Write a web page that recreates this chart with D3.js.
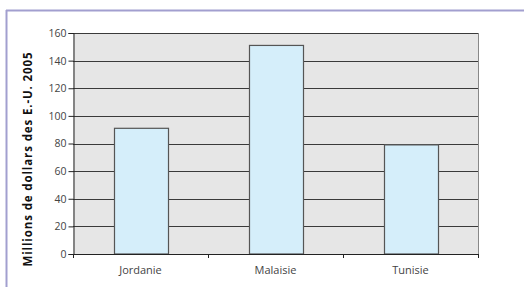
<!DOCTYPE html>
<html>
<head>
<meta charset="utf-8">
<script src="https://cdn.jsdelivr.net/npm/d3@7"></script>
<style>
  body { margin: 0; background: #fff; }
  svg { display: block; }
</style>
</head>
<body>
<div id="chart"></div>
<script>
const countries = ['Jordanie', 'Malaisie', 'Tunisie'];
const values = [91, 151, 79];
const yTicks = [0, 20, 40, 60, 80, 100, 120, 140, 160];
const yTitle = 'Millions de dollars des E.-U. 2005';

const w = 524, h = 291;
const m = {top: 33, right: 46, bottom: 37, left: 73};
const Mw = w - m.left - m.right,
      Mh = h - m.top - m.bottom;

const font = '"Open Sans", sans-serif';

const svg = d3.select('#chart')
    .append('svg')
        .attr('width', w)
        .attr('height', h);

// purple frame (top and left only)
svg.append('line')
    .attr('x1', 6).attr('x2', w).attr('y1', 10.5).attr('y2', 10.5)
    .attr('stroke', '#a29fcf').attr('stroke-width', 2);
svg.append('line')
    .attr('x1', 6.5).attr('x2', 6.5).attr('y1', 10).attr('y2', 287)
    .attr('stroke', '#a29fcf').attr('stroke-width', 2);

const g = svg.append('g')
    .attr('transform', `translate(${m.left}, ${m.top})`);

const x = d3.scaleBand()
    .domain(countries)
    .range([0, Mw])
    .paddingInner(0.6)
    .paddingOuter(0.3);

const y = d3.scaleLinear()
    .domain([0, 160])
    .range([Mh, 0]);

// plot background
g.append('rect')
    .attr('x', 0).attr('y', 0)
    .attr('width', Mw).attr('height', Mh)
    .attr('fill', '#e6e6e6');

// gridlines
g.selectAll('.grid')
    .data(yTicks.slice(1)).enter()
    .append('line')
    .attr('x1', 0).attr('x2', Mw)
    .attr('y1', d => Math.round(y(d)) + 0.5)
    .attr('y2', d => Math.round(y(d)) + 0.5)
    .attr('stroke', '#3a3a3a')
    .attr('stroke-width', 1);

// right border
g.append('line')
    .attr('x1', Mw + 0.5).attr('x2', Mw + 0.5)
    .attr('y1', 0).attr('y2', Mh + 4)
    .attr('stroke', '#888');

// bars
g.selectAll('.bar')
    .data(countries).enter()
    .append('rect')
    .attr('x', d => Math.round(x(d)) + 0.5)
    .attr('y', (d, i) => y(values[i]))
    .attr('width', x.bandwidth())
    .attr('height', (d, i) => Mh - y(values[i]))
    .attr('fill', '#d5eefa')
    .attr('stroke', '#555')
    .attr('stroke-width', 1.2);

// y axis
const yAxis = g.append('g')
    .attr('transform', 'translate(0.5, 0)')
    .call(d3.axisLeft(y).tickValues(yTicks).tickSize(5).tickPadding(2));
yAxis.select('.domain').attr('stroke', '#222');
yAxis.selectAll('.tick line').attr('stroke', '#222');
yAxis.selectAll('text')
    .attr('fill', '#444')
    .style('font-family', font)
    .style('font-size', '10.5px');

// x axis: ticks at category boundaries
const bounds = d3.range(countries.length + 1).map(i => i * x.step());
g.selectAll('.xtick')
    .data(bounds).enter()
    .append('line')
    .attr('x1', d => Math.round(d) + 0.5)
    .attr('x2', d => Math.round(d) + 0.5)
    .attr('y1', Mh).attr('y2', Mh + 4)
    .attr('stroke', '#222');
g.append('line')
    .attr('x1', 0).attr('x2', Mw)
    .attr('y1', Math.round(Mh) + 0.5).attr('y2', Math.round(Mh) + 0.5)
    .attr('stroke', '#222');

g.selectAll('.xlabel')
    .data(countries).enter()
    .append('text')
    .attr('x', d => x(d) + x.bandwidth() / 2)
    .attr('y', Mh + 20)
    .attr('text-anchor', 'middle')
    .attr('fill', '#444')
    .style('font-family', font)
    .style('font-size', '11px')
    .text(d => d);

// y title
svg.append('text')
    .attr('transform', 'translate(32, 159.5) rotate(-90)')
    .attr('text-anchor', 'middle')
    .attr('textLength', 214)
    .attr('lengthAdjust', 'spacing')
    .attr('fill', '#111')
    .style('font-family', font)
    .style('font-weight', 'bold')
    .style('font-size', '11.5px')
    .text(yTitle);
</script>
</body>
</html>
